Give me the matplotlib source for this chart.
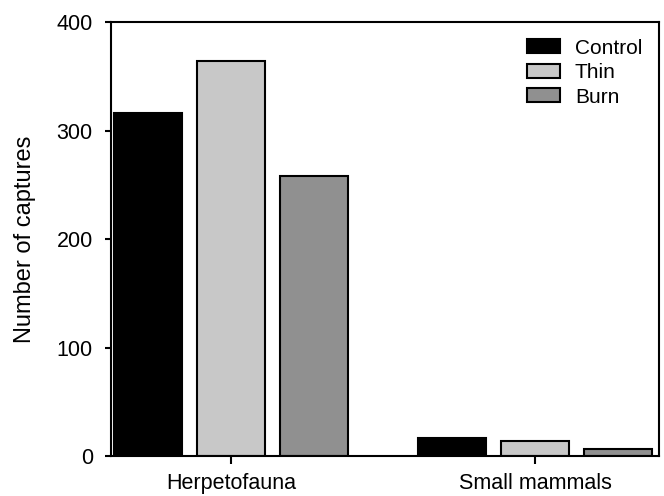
import matplotlib
matplotlib.use("Agg")
import matplotlib.pyplot as plt
import numpy as np

plt.rcParams["font.family"] = ["Liberation Sans", "DejaVu Sans"]

groups = ["Herpetofauna", "Small mammals"]
treatments = ["Control", "Thin", "Burn"]
control = [316, 17]
thin = [364, 13.5]
burn = [258, 6.5]
colors = ["#000000", "#c8c8c8", "#909090"]

fig = plt.figure(figsize=(6.64, 4.96), dpi=100)
ax = fig.add_axes([0.167, 0.0806, 0.8255, 0.875])

x = np.arange(len(groups))
width = 0.222
offset = 0.273
for i, (vals, c, lab) in enumerate(zip([control, thin, burn], colors, treatments)):
    ax.bar(x + (i - 1) * offset, vals, width, color=c, edgecolor="black",
           linewidth=1.5, label=lab)

ax.set_xlim(-0.395, 1.408)
ax.set_ylim(0, 400)
ax.set_yticks([0, 100, 200, 300, 400])
ax.set_xticks(x)
ax.set_xticklabels(groups)
ax.set_ylabel("Number of captures", fontsize=17, labelpad=15)
ax.tick_params(axis="both", labelsize=15.5, width=1.5, direction="out")
ax.tick_params(axis="y", length=4, pad=9)
ax.tick_params(axis="x", length=6, pad=6)
for s in ax.spines.values():
    s.set_linewidth(1.5)

ax.legend(loc="upper right", frameon=False, fontsize=15, handlelength=1.6,
          handleheight=0.65, labelspacing=0.26, handletextpad=0.7,
          borderaxespad=0.4)

fig.savefig("out.png", dpi=100)
